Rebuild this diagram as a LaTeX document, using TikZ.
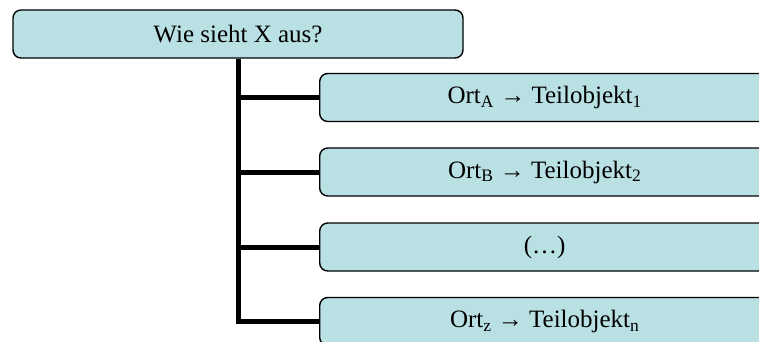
\documentclass[tikz,border=0pt]{standalone}
\usepackage{fontspec}
\setmainfont{Liberation Serif}

\definecolor{kasten}{RGB}{185,224,227}

\tikzset{
	box/.style={draw, line width=1.4pt, fill=kasten, rounded corners=8pt, inner sep=0pt, minimum width=450pt, minimum height=48pt, font=\fontsize{25}{30}\selectfont},
	ast/.style={line width=5pt}
}

\begin{document}
\begin{tikzpicture}[x=1pt,y=-1pt]

	\useasboundingbox (0,0) rectangle (759,342);
	\clip (0,0) rectangle (759,342);

	\node[box] (frage) at (238,34) {Wie sieht X aus?};

	\foreach \i/\h/\txt in {1/97.5/{Ort\textsubscript{A} → Teilobjekt\textsubscript{1}},
		2/172/{Ort\textsubscript{B} → Teilobjekt\textsubscript{2}},
		3/247/{(…)},
		4/321.5/{Ort\textsubscript{z} → Teilobjekt\textsubscript{n}}}
{
	\node[box, anchor=west] (teil\i) at (319,\h) {\makebox[450pt]{\txt}\hspace*{50pt}};
}

	\draw[ast] (frage.south) |- (teil4.west);
	\foreach \i in {1,2,3}
		\draw[ast] (frage.south |- teil\i.west) -- (teil\i.west);

\end{tikzpicture}
\end{document}
